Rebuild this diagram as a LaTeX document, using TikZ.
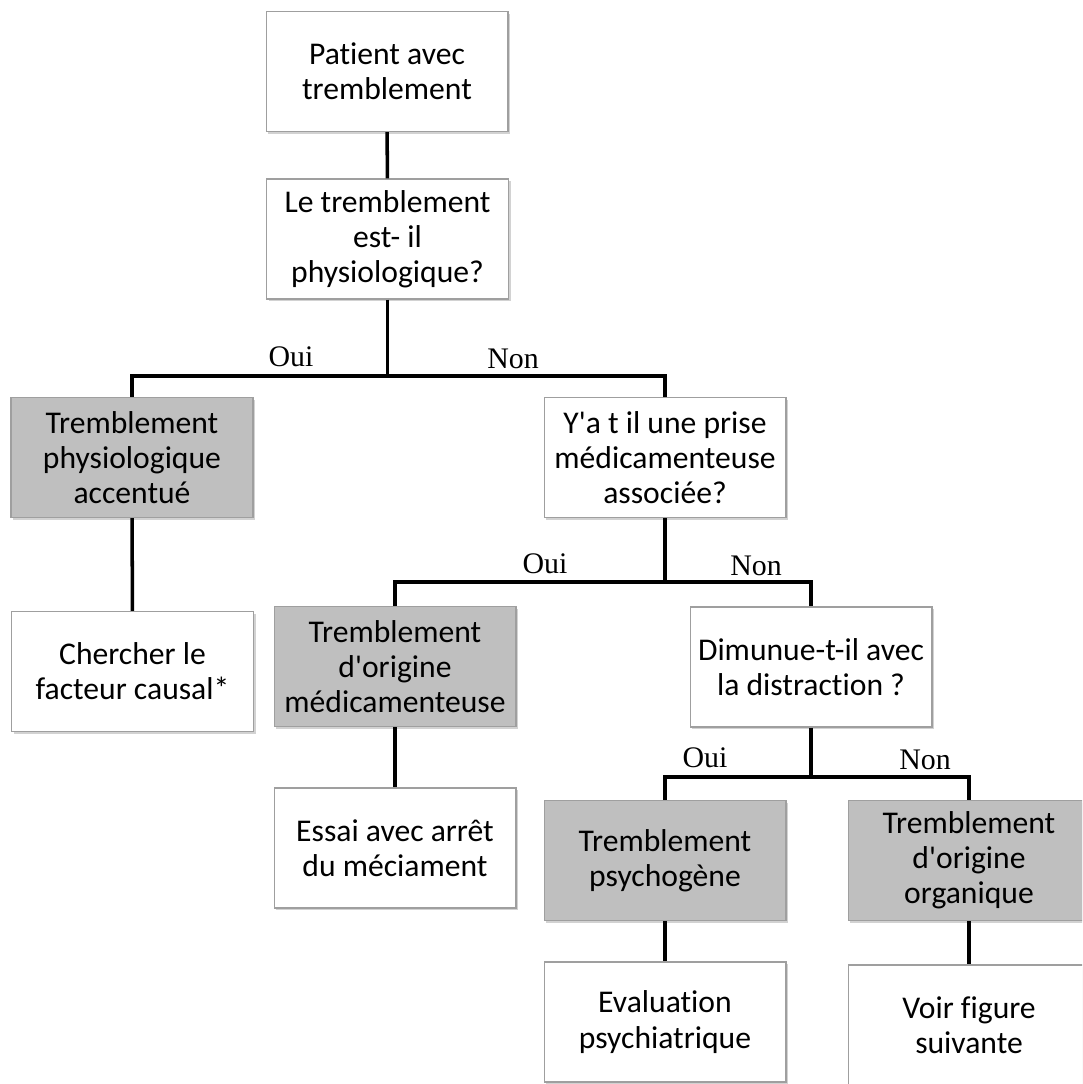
\documentclass[tikz,border=0pt]{standalone}
\usepackage{fontspec}
\setmainfont{Carlito}[Ligatures={NoCommon}]
\newfontfamily\labelfont{Liberation Serif}
\usetikzlibrary{shadows}

\begin{document}
\begin{tikzpicture}[x=0.02cm,y=-0.02cm,
  box/.style={draw=gray!75, line width=0.6pt, fill=white, minimum width=4.84cm,
    minimum height=2.4cm, text width=4.6cm, align=flush center, inner sep=2pt,
    font=\fontsize{18pt}{20pt}\selectfont,
    drop shadow={opacity=0.35, shadow xshift=1.2pt, shadow yshift=-1.2pt}},
  greybox/.style={box, fill=gray!50},
  lab/.style={font=\labelfont\fontsize{17pt}{19pt}\selectfont},
  link/.style={line width=2pt}]
\clip (0,0) rectangle (1082,1084);
\fill[white] (0,0) rectangle (1082,1084);
% level 0
\node[box] (pat) at (387,71.5) {Patient avec\\tremblement};
\node[box] (q1) at (387.5,239) {Le tremblement\\est- il\\physiologique?};
\coordinate (j1) at (387.5,376);
% level 1
\node[greybox] (phys) at (132,457.5) {Tremblement\\physiologique\\accentué};
\node[box] (q2) at (665,457.5) {Y\textquotesingle a t il une prise\\médicamenteuse\\associée?};
\node[box] (cause) at (132.5,671.5) {Chercher le\\facteur causal*};
\coordinate (j2) at (665,582);
% level 2
\node[greybox] (medic) at (395,666.5) {Tremblement\\d\textquotesingle origine\\médicamenteuse};
\node[box] (q3) at (811,667) {Dimunue-t-il avec\\la distraction ?};
\node[box] (essai) at (395,848) {Essai avec arrêt\\du méciament};
\coordinate (j3) at (811,777);
% level 3
\node[greybox] (psy) at (665,860.5) {Tremblement\\psychogène};
\node[greybox] (org) at (969,860.5) {Tremblement\\d\textquotesingle origine\\organique};
\node[box] (eval) at (665,1022) {Evaluation\\psychiatrique};
\node[box] (voir) at (969,1025) {Voir figure\\suivante};
% branch labels
\node[lab] (oui1) at (291,357) {Oui};
\node[lab] (non1) at (513,359) {Non};
\node[lab] (oui2) at (545,564) {Oui};
\node[lab] (non2) at (756,566) {Non};
\node[lab] (oui3) at (705,758) {Oui};
\node[lab] (non3) at (925,760) {Non};
% connectors
\draw[link] (pat) -- (q1);
\draw[link] (q1) -- (j1);
\draw[link] (phys.north) |- (j1) -| (q2.north);
\draw[link] (phys) -- (cause);
\draw[link] (q2) -- (j2);
\draw[link] (medic.north) |- (j2) -| (q3.north);
\draw[link] (medic) -- (essai);
\draw[link] (q3) -- (j3);
\draw[link] (psy.north) |- (j3) -| (org.north);
\draw[link] (psy) -- (eval);
\draw[link] (org) -- (voir);
\end{tikzpicture}
\end{document}
